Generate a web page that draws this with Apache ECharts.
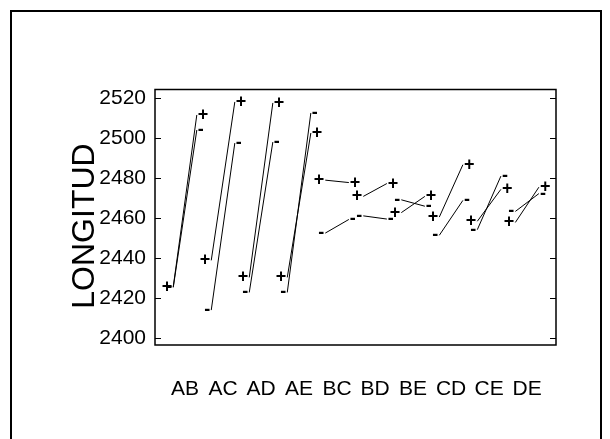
<!DOCTYPE html>
<html><head><meta charset="utf-8">
<script src="https://cdn.jsdelivr.net/npm/echarts@6/dist/echarts.min.js"></script>
<style>html,body{margin:0;padding:0;background:#fff}#c{width:610px;height:439px}</style>
</head><body><div id="c"></div>
<script>
const categories = ['AB','AC','AD','AE','BC','BD','BE','CD','CE','DE'];
const plusLow   = [2425.8, 2439.0, 2430.5, 2430.5, 2479.0, 2470.9, 2462.8, 2460.6, 2458.5, 2457.9];
const plusHigh  = [2511.5, 2518.0, 2517.5, 2502.5, 2477.8, 2477.3, 2470.9, 2486.7, 2474.4, 2475.5];
const minusLow  = [2425.5, 2414.2, 2423.0, 2423.0, 2452.6, 2461.2, 2469.2, 2451.5, 2454.3, 2463.4];
const minusHigh = [2504.0, 2497.5, 2498.0, 2512.5, 2459.4, 2459.6, 2466.0, 2468.9, 2481.0, 2472.3];
const yTicks = [2400, 2420, 2440, 2460, 2480, 2500, 2520];
const yTitle = 'LONGITUD';

const FONT = 'Liberation Sans, Arial, sans-serif';
const HALF = 0.31;
const chart = echarts.init(document.getElementById('c'), null, {renderer: 'canvas'});

function makeSeries(label, lows, highs) {
  const mfont = 'bold 18px ' + FONT;
  return {
    type: 'custom',
    coordinateSystem: 'cartesian2d',
    xAxisIndex: 0, yAxisIndex: 0,
    data: categories.map((c, i) => [i, lows[i], highs[i]]),
    encode: {x: 0, y: [1, 2]},
    clip: false, silent: true,
    renderItem: function (params, api) {
      const i = api.value(0);
      const p1 = api.coord([i - HALF, api.value(1)]);
      const p2 = api.coord([i + HALF, api.value(2)]);
      return {type: 'group', children: [
        {type: 'line', shape: {x1: p1[0], y1: p1[1], x2: p2[0], y2: p2[1]}, style: {stroke: '#000', lineWidth: 1}},
        {type: 'text', x: p1[0] - 1, y: p1[1], style: {text: label, align: 'right', verticalAlign: 'middle', font: mfont, fill: '#000'}},
        {type: 'text', x: p2[0] + 1, y: p2[1], style: {text: label, align: 'left', verticalAlign: 'middle', font: mfont, fill: '#000'}}
      ]};
    }
  };
}

const option = {
  animation: false,
  backgroundColor: '#fff',
  grid: {left: 155, right: 54, top: 89.5, bottom: 94, show: true, borderColor: '#000', borderWidth: 1.5, backgroundColor: 'transparent'},
  xAxis: {
    type: 'value', min: -0.79, max: 9.76,
    axisLine: {show: false, onZero: false}, axisTick: {show: false}, splitLine: {show: false},
    axisLabel: {customValues: categories.map((c, i) => i), formatter: v => categories[Math.round(v)], margin: 34, fontSize: 21, fontFamily: FONT, color: '#000'}
  },
  yAxis: [{
    type: 'value', min: 2396.8, max: 2524.2, position: 'left',
    axisLine: {show: false, onZero: false}, splitLine: {show: false},
    axisTick: {show: true, inside: true, length: 6, customValues: yTicks, lineStyle: {color: '#000', width: 1}},
    axisLabel: {customValues: yTicks, formatter: v => String(v), margin: 9, fontSize: 21, fontFamily: FONT, color: '#000'}
  }, {
    type: 'value', min: 2396.8, max: 2524.2, position: 'right',
    axisLine: {show: false, onZero: false}, splitLine: {show: false},
    axisTick: {show: true, inside: true, length: 6, customValues: yTicks, lineStyle: {color: '#000', width: 1}},
    axisLabel: {show: false}
  }],
  graphic: [
    {type: 'rect', shape: {x: 11, y: 11, width: 590, height: 445}, style: {fill: 'none', stroke: '#000', lineWidth: 2}, silent: true},
    {type: 'text', x: 85, y: 226, rotation: Math.PI / 2, style: {text: yTitle, align: 'center', verticalAlign: 'middle', font: '32px ' + FONT, fill: '#000'}, silent: true}
  ],
  series: [makeSeries('-', minusLow, minusHigh), makeSeries('+', plusLow, plusHigh)]
};
chart.setOption(option);
</script>
</body></html>
